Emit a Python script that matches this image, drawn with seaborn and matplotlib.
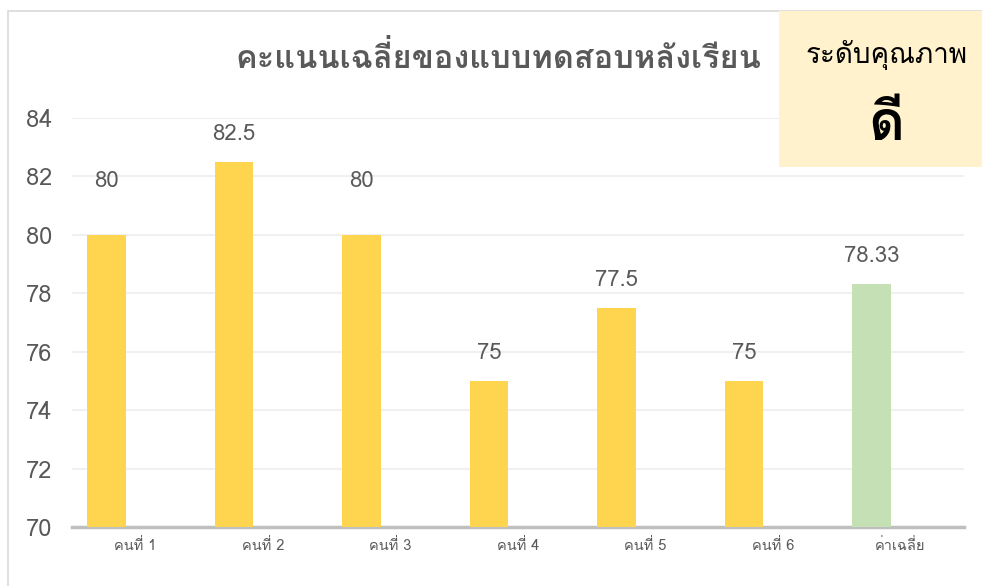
import matplotlib
matplotlib.use("Agg")
import matplotlib.pyplot as plt
import seaborn as sns
from matplotlib import font_manager as fm
from matplotlib.ft2font import FT2Font
from matplotlib.patches import Rectangle

# data
labels = ["คนที่ 1", "คนที่ 2", "คนที่ 3", "คนที่ 4", "คนที่ 5", "คนที่ 6", "ค่าเฉลี่ย"]
scores = [80, 82.5, 80, 75, 77.5, 75, 78.33]
bar_colors = ["#FFD54F"] * 6 + ["#C5E0B4"]
label_pad = [31, 12, 31, 12, 12, 12, 12]  # points above bar top
title = "คะแนนเฉลี่ยของแบบทดสอบหลังเรียน"
level_title = "ระดับคุณภาพ"
level_value = "ดี"

sns.set_theme(style="white")

# find a font that actually has Thai glyphs
thai_font = None
for f in fm.fontManager.ttflist:
    try:
        if FT2Font(f.fname).get_char_index(0x0E04):
            thai_font = f.name
            break
    except Exception:
        pass
families = ([thai_font] if thai_font else []) + ["DejaVu Sans"]
plt.rcParams["font.family"] = families

fig = plt.figure(figsize=(9.82, 5.86), dpi=100)
ax = fig.add_axes([0.073, 0.1007, 0.909, 0.6979])

# chart border
fig.patches.append(Rectangle((8 / 982, -0.05), 1.2, 1 - 11 / 586 + 0.05,
                             transform=fig.transFigure, fill=False,
                             edgecolor="#D9D9D9", linewidth=1.2, zorder=0))

sns.barplot(x=labels, y=scores, hue=labels, palette=bar_colors, width=0.303,
            legend=False, saturation=1, ax=ax, zorder=3)
for p in ax.patches:
    p.set_x(p.get_x() - 0.228)
    p.set_edgecolor("none")

for p, v, pad in zip(ax.patches, scores, label_pad):
    txt = f"{v:g}"
    ax.annotate(txt, (p.get_x() + p.get_width() / 2, v), xytext=(0, pad),
                textcoords="offset points", ha="center", va="bottom",
                fontsize=16, color="#595959")

ax.set_ylim(70, 84)
ax.set_xlim(-0.5, 6.5)
ax.set_yticks(range(70, 85, 2))
ax.yaxis.grid(True, color="#F0F0F0", linewidth=1.5)
ax.set_axisbelow(True)
for s in ["left", "right", "top"]:
    ax.spines[s].set_visible(False)
ax.spines["bottom"].set_color("#BFBFBF")
ax.spines["bottom"].set_linewidth(2.5)
ax.tick_params(axis="y", labelsize=17, labelcolor="#595959", length=0, pad=14)
ax.tick_params(axis="x", labelsize=10.5, labelcolor="#595959", length=0, pad=8)
ax.set_xlabel("")
ax.set_ylabel("")

fig.text(0.507, 1 - 57 / 586, title, ha="center", va="center",
         fontsize=23.4, fontweight="bold", color="#595959")

# quality level box
fig.patches.append(Rectangle((779 / 982, 1 - 167 / 586), 203 / 982, 156 / 586,
                             transform=fig.transFigure, facecolor="#FFF2CC",
                             edgecolor="none", zorder=1))
fig.text(887 / 982, 1 - 55 / 586, level_title, ha="center", va="center",
         fontsize=20, color="#000000", zorder=2)
fig.text(886 / 982, 1 - 126 / 586, level_value, ha="center", va="center",
         fontsize=40, fontweight="bold", color="#000000", zorder=2)

fig.savefig("out.png", dpi=100)
